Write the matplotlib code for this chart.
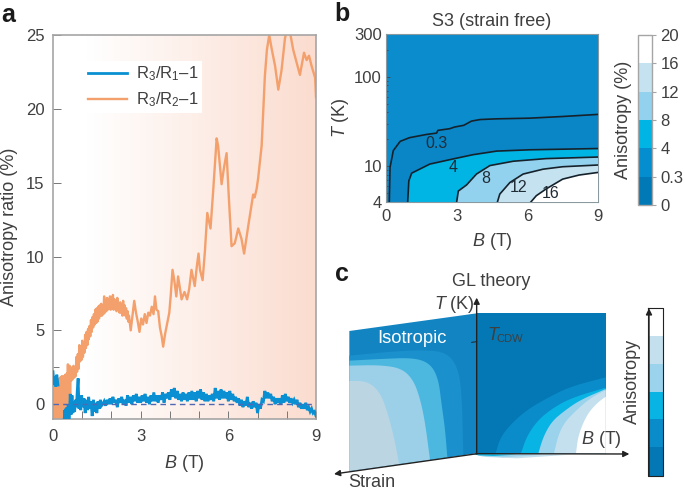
import numpy as np
import matplotlib
matplotlib.use('Agg')
import matplotlib.pyplot as plt
from matplotlib.cm import ScalarMappable
from matplotlib.colors import BoundaryNorm, ListedColormap, LinearSegmentedColormap
from matplotlib.ticker import FixedLocator, NullFormatter

plt.rcParams['font.family'] = ['Liberation Sans', 'DejaVu Sans']
plt.rcParams['mathtext.fontset'] = 'custom'
plt.rcParams['mathtext.rm'] = 'Liberation Sans'
plt.rcParams['mathtext.it'] = 'Liberation Sans:italic'
plt.rcParams['mathtext.default'] = 'regular'

W, H = 685, 492
TEXT = '#3f3f3f'
GREY = '#a5a5a5'
BLUE = '#0a90d2'
ORANGE = '#f3a06c'
FS_TICK = 12
FS_LABEL = 13

# panel a, R3/R2-1
b_r2 = [0.000, 0.015, 0.030, 0.045, 0.060, 0.075, 0.090, 0.105, 0.120, 0.135, 0.150, 0.165, 0.180, 0.195,
        0.210, 0.225, 0.240, 0.255, 0.270, 0.285, 0.300, 0.315, 0.330, 0.345, 0.360, 0.375, 0.390, 0.405,
        0.420, 0.435, 0.450, 0.465, 0.480, 0.495, 0.510, 0.525, 0.540, 0.555, 0.570, 0.585,
        0.600, 0.625, 0.650, 0.675, 0.700, 0.725, 0.750, 0.775, 0.800, 0.825, 0.850, 0.875, 0.900, 0.925,
        0.950, 0.975, 1.000, 1.025, 1.050, 1.075, 1.100, 1.125, 1.150, 1.175, 1.200, 1.225, 1.250, 1.275,
        1.300, 1.325, 1.350, 1.375, 1.400, 1.425, 1.450, 1.475, 1.500, 1.525, 1.550, 1.575, 1.600, 1.625,
        1.650, 1.675, 1.700, 1.725, 1.750, 1.775, 1.800, 1.825, 1.850, 1.875, 1.900, 1.925, 1.950, 1.975,
        2.000, 2.025, 2.050, 2.075, 2.100, 2.125, 2.150, 2.175, 2.200, 2.225, 2.250, 2.275, 2.300, 2.325,
        2.350, 2.375, 2.400, 2.425, 2.450, 2.475, 2.500, 2.525, 2.550, 2.575,
        2.60, 2.66, 2.72, 2.78, 2.84, 2.90, 2.96, 3.02, 3.08, 3.14, 3.20, 3.26, 3.32, 3.38, 3.44,
        3.49, 3.54, 3.60, 3.66, 3.72, 3.77, 3.84, 3.92, 3.98, 4.03, 4.09, 4.15, 4.22, 4.28, 4.34,
        4.40, 4.50, 4.59, 4.66, 4.74, 4.85, 4.92, 4.98, 5.03, 5.12, 5.20, 5.28, 5.39, 5.48, 5.60,
        5.65, 5.77, 5.85, 5.94, 6.02, 6.11, 6.22, 6.34, 6.45, 6.54, 6.68, 6.85, 6.90, 6.97, 7.02,
        7.14, 7.25, 7.32, 7.40, 7.48, 7.60, 7.71, 7.82, 7.94, 8.00, 8.10, 8.22, 8.33, 8.45, 8.59,
        8.68, 8.76, 8.85, 8.97, 9.00]
r2 = [1.3, -1.2, 1.1, -1.2, 1.4, -1.2, 1.2, -1.2, 1.5, -1.2, 1.3, -1.2, 1.7, -1.2,
      1.4, -1.2, 1.8, -1.2, 1.5, -1.2, 1.9, -1.2, 1.6, -1.2, 1.9, -1.2, 1.7, -1.2,
      2.0, -1.2, 1.8, -1.2, 2.1, -1.2, 2.7, -1.0, 2.4, -0.6, 2.6, 0.4,
      2.2, 1.6, 2.5, 1.7, 2.6, 1.8, 2.4, 1.9, 3.2, 2.2, 3.4, 2.4, 4.0, 2.9,
      3.9, 3.0, 4.3, 3.2, 4.2, 3.5, 4.7, 3.8, 4.9, 4.0, 5.1, 4.4, 5.3, 4.6,
      5.7, 4.9, 5.9, 5.2, 6.1, 5.4, 6.4, 5.5, 6.5, 5.6, 6.6, 5.8, 6.7, 6.0,
      6.8, 6.0, 6.7, 6.1, 7.3, 6.2, 7.0, 6.3, 7.2, 6.4, 7.1, 6.5, 7.3, 6.4,
      7.2, 6.5, 7.4, 6.4, 7.1, 6.6, 7.0, 6.3, 7.2, 6.4, 6.8, 6.2, 6.9, 6.2,
      6.6, 6.0, 7.0, 6.1, 6.7, 6.0, 6.5, 5.8, 6.3, 5.6,
      6.0, 5.0, 6.0, 7.0, 6.2, 5.6, 4.9, 5.8, 5.4, 6.1, 5.5, 6.2, 6.0, 6.6, 6.1,
      7.3, 6.4, 6.3, 5.2, 4.6, 3.9, 4.8, 5.6, 6.2, 7.4, 9.1, 8.4, 7.3, 8.65, 7.9,
      7.1, 7.6, 7.1, 7.8, 9.1, 8.0, 9.3, 10.2, 9.1, 8.4, 10.4, 12.95, 11.9, 14.4, 18.0,
      17.5, 14.9, 16.0, 17.0, 13.9, 10.7, 10.9, 11.9, 11.2, 10.2, 12.05, 14.2, 14.0, 14.6, 15.3,
      17.5, 22.2, 24.0, 25.0, 24.1, 22.9, 21.3, 22.6, 24.8, 25.3, 25.3, 24.0, 23.2, 22.3, 23.8,
      23.3, 23.6, 22.9, 22.1, 20.8]

# panel a, R3/R1-1
b_r1 = [0.00, 0.03, 0.06, 0.09, 0.13, 0.17, 0.20, 0.38, 0.40, 0.42, 0.44, 0.46, 0.48, 0.50, 0.52, 0.54, 0.56, 0.59,
        0.62, 0.65, 0.68, 0.71, 0.74, 0.77, 0.80, 0.83, 0.86, 0.89, 0.92, 0.95, 0.98, 1.02, 1.06,
        1.10, 1.14, 1.18, 1.22, 1.26, 1.30, 1.34, 1.38, 1.42, 1.46, 1.50, 1.54, 1.58, 1.62, 1.66,
        1.70, 1.75, 1.80, 1.85, 1.90, 1.95, 2.00, 2.05, 2.10, 2.15, 2.20, 2.25, 2.30, 2.35, 2.40,
        2.45, 2.50, 2.55, 2.60, 2.65, 2.70, 2.75, 2.80, 2.85, 2.90, 2.95, 3.00, 3.05, 3.10, 3.15,
        3.20, 3.25, 3.30, 3.35, 3.40, 3.45, 3.50, 3.55, 3.60, 3.65, 3.70, 3.75, 3.80, 3.85, 3.90,
        3.95, 4.00, 4.05, 4.10, 4.15, 4.20, 4.25, 4.30, 4.35, 4.40, 4.45, 4.50, 4.55, 4.60, 4.65,
        4.70, 4.75, 4.80, 4.85, 4.90, 4.95, 5.00, 5.05, 5.10, 5.15, 5.20, 5.25, 5.30, 5.35, 5.40,
        5.45, 5.50, 5.55, 5.60, 5.65, 5.70, 5.75, 5.80, 5.85, 5.90, 5.95, 6.00, 6.05, 6.10, 6.15,
        6.20, 6.25, 6.30, 6.35, 6.40, 6.45, 6.50, 6.55, 6.60, 6.65, 6.70, 6.75, 6.80, 6.85, 6.90,
        6.95, 7.00, 7.05, 7.10, 7.15, 7.20, 7.25, 7.30, 7.35, 7.40, 7.45, 7.50, 7.55, 7.60, 7.65,
        7.70, 7.75, 7.80, 7.85, 7.90, 7.95, 8.00, 8.05, 8.10, 8.15, 8.20, 8.25, 8.30, 8.35, 8.40,
        8.45, 8.50, 8.55, 8.60, 8.65, 8.70, 8.75, 8.80, 8.85, 8.90, 8.95, 9.00]
r1 = [2.2, 1.3, 1.9, 1.2, 2.0, 1.3, np.nan, -1.2, -0.4, -1.2, -0.3, -1.2, -0.2, -1.2, 0.0, -1.1, -0.9, 0.7,
      -0.7, 0.6, -0.6, 0.2, -0.5, 0.3, -0.2, 0.9, 1.75, -0.3, 0.5, -0.4, 0.6, -0.2, 0.4,
      -0.6, 0.3, -0.4, 0.5, -0.3, 0.2, -0.8, 0.3, -0.5, 0.1, -0.6, 0.2, -0.3, 0.3, -0.1,
      0.0, 0.2, -0.1, 0.3, 0.0, 0.4, 0.0, 0.5, 0.1, 0.3, -0.2, 0.4, 0.1, 0.5, 0.0,
      0.3, -0.1, 0.6, 0.1, 0.5, 0.0, 0.6, 0.2, 0.7, 0.1, 0.5, 0.1, 0.6, 0.2, 0.7,
      0.1, 0.5, 0.0, 0.6, 0.2, 0.8, 0.2, 0.6, 0.1, 0.6, 0.3, 0.8, 0.1, 0.7, 0.4,
      0.8, 0.3, 1.0, 0.5, 1.1, 0.4, 0.9, 0.3, 0.7, 0.2, 0.8, 0.3, 0.7, 0.2, 0.8,
      0.3, 0.9, 0.3, 0.8, 0.2, 0.9, 0.4, 1.0, 0.3, 0.8, 0.2, 0.7, 0.2, 0.6, 0.3,
      0.7, 0.2, 1.1, 0.4, 0.9, 0.3, 1.0, 0.4, 0.9, 0.4, 0.8, 0.2, 0.9, 0.3, 0.7,
      0.2, 0.5, 0.1, 0.4, -0.1, 0.3, -0.2, 0.2, -0.1, 0.5, -0.2, 0.1, -0.3, 0.2, -0.2,
      0.1, -0.6, 0.0, -0.3, 0.3, 0.2, 0.9, 0.4, 0.8, 0.4, 0.7, 0.2, 0.5, 0.0, 0.4,
      0.1, 0.4, 0.0, 0.6, 0.1, 0.7, 0.2, 0.5, 0.1, 0.4, 0.1, 0.3, 0.0, 0.3, -0.2,
      0.1, -0.3, 0.0, -0.3, 0.1, -0.4, -0.2, -0.5, -0.3, -0.6, -0.5, -0.8]

# panel b, contour lines (B in T, T in K)
c03_b = [0.14, 0.17, 0.31, 0.60, 1.00, 1.72, 2.15, 2.20, 2.70, 2.92, 3.30, 3.63, 4.00, 4.70, 6.10, 7.50, 9.00]
c03_t = [4.0, 9.7, 15.0, 19.0, 20.9, 22.7, 23.5, 25.2, 26.3, 27.5, 28.7, 32.0, 33.3, 33.9, 34.5, 36.0, 38.0]
c4_b = [0.92, 0.97, 1.09, 1.86, 2.85, 3.70, 4.70, 6.10, 9.00]
c4_t = [4.0, 6.9, 8.4, 10.6, 12.1, 13.5, 14.8, 15.3, 15.8]
c8_b = [3.00, 3.07, 3.42, 3.84, 4.41, 5.40, 6.80, 9.00]
c8_t = [4.0, 5.3, 6.2, 8.2, 10.2, 11.4, 12.2, 12.7]
c12_b = [4.73, 4.83, 5.26, 5.82, 6.67, 7.50, 9.00]
c12_t = [4.0, 4.9, 6.6, 8.2, 9.3, 9.9, 10.35]
c16_b = [6.15, 6.38, 6.80, 7.50, 8.20, 9.00]
c16_t = [4.0, 4.7, 5.6, 7.2, 8.0, 8.55]
contour_b = [c03_b, c4_b, c8_b, c12_b, c16_b]
contour_t = [c03_t, c4_t, c8_t, c12_t, c16_t]
contour_names = ['0.3', '4', '8', '12', '16']
label_b = [2.15, 2.85, 4.22, 5.64, 7.0]
label_t = [18.2, 9.7, 7.3, 5.8, 5.0]

cbar_bounds = [0, 0.3, 4, 8, 12, 16, 20]
cbar_names = ['0', '0.3', '4', '8', '12', '16', '20']
cbar_colors = ['#0079b6', '#048ecf', '#00b4e4', '#93d2ee', '#c5e2f0', '#ffffff']
top_color = '#0a8ccd'
fill_colors = ['#0a86c6', '#00b4e4', '#93d2ee', '#c5e2f0', '#ffffff']

# panel c, schematic outlines in zoomed picture units
left_base = ([58, 440, 440, 58], [228, 175, 595, 648])
left_color = '#1284c2'
left_bands = [
    ('#1a90cc', [58, 200, 300, 350, 380, 395, 400], [302, 288, 285, 295, 330, 400, 600]),
    ('#4cb8e0', [58, 150, 250, 300, 325, 335, 345, 352], [317, 312, 308, 325, 370, 450, 520, 607]),
    ('#9cd0e8', [58, 150, 215, 250, 270, 285, 300], [332, 330, 340, 375, 430, 500, 615]),
    ('#bcd5e3', [58, 110, 150, 175, 195, 207], [378, 378, 410, 480, 560, 627]),
]
right_base = ([440, 827, 827, 440], [175, 175, 595, 595])
right_color = '#0378b4'
right_bands = [
    ('#0a8ccb', [497, 510, 540, 590, 650, 720, 827], [595, 550, 510, 465, 430, 395, 367]),
    ('#08b4e4', [573, 590, 620, 660, 720, 827], [595, 545, 500, 465, 430, 398]),
    ('#9bd2ec', [625, 640, 665, 700, 750, 827], [595, 545, 500, 470, 435, 402]),
    ('#c4e0ee', [672, 685, 705, 740, 780, 827], [595, 540, 500, 465, 430, 405]),
    ('#ffffff', [738, 745, 770, 800, 827], [595, 540, 480, 445, 425]),
]
sliver = [
    ('#c4e0ee', [430, 720, 560, 470], [597, 599, 610, 606]),
    ('#9bd2ec', [430, 640, 520, 455], [597, 599, 607, 604]),
    ('#08b4e4', [430, 560, 490, 445], [597, 599, 603, 601]),
]
bar_edges = [158, 243, 327, 410, 493, 577, 662]
bar_colors = ['#ffffff', '#c4e0ee', '#9bd2ec', '#08b4e4', '#0a8ccb', '#0378b4']


def px_axes(fig, x0, y0, x1, y1):
    return fig.add_axes([x0 / W, 1 - y1 / H, (x1 - x0) / W, (y1 - y0) / H])


def chaikin(xs, ys, rounds=3):
    # corner cutting, keeps both end points
    p = np.column_stack([xs, ys]).astype(float)
    for _ in range(rounds):
        q = 0.75 * p[:-1] + 0.25 * p[1:]
        r = 0.25 * p[:-1] + 0.75 * p[1:]
        mid = np.empty((2 * len(q), 2))
        mid[0::2] = q
        mid[1::2] = r
        p = np.vstack([p[0], mid, p[-1]])
    return p[:, 0], p[:, 1]


def panel_a(fig):
    ax = px_axes(fig, 53, 35, 316, 419)
    ax.set_xlim(0, 9)
    ax.set_ylim(-1, 25)

    fade = LinearSegmentedColormap.from_list('fade', [(0, '#ffffff'), (0.13, '#ffffff'), (1, '#fbdccf')])
    ax.imshow(np.linspace(0, 1, 256).reshape(1, -1), extent=(0, 9, -1, 25), aspect='auto', cmap=fade, zorder=0)

    ax.plot(b_r1, r1, color=BLUE, lw=2.0, label='R$_3$/R$_1$\u20131', zorder=3, solid_joinstyle='miter')
    ax.plot(b_r2, r2, color=ORANGE, lw=1.7, label='R$_3$/R$_2$\u20131', zorder=2)
    ax.axhline(0, color='#5068b4', lw=1, ls=(0, (4, 3)), zorder=4)

    ax.set_xticks([0, 3, 6, 9])
    ax.set_yticks([0, 5, 10, 15, 20, 25])
    ax.xaxis.set_minor_locator(FixedLocator([1, 2, 4, 5, 7, 8]))
    ax.yaxis.set_minor_locator(FixedLocator([2.5]))
    ax.tick_params(which='both', direction='in', color='#777777', labelcolor=TEXT, width=0.7)
    ax.tick_params(which='major', length=5.5, labelsize=FS_TICK)
    ax.tick_params(which='minor', length=5.5)
    ax.tick_params(axis='y', which='minor', length=4)
    ax.tick_params(axis='x', pad=7)
    ax.tick_params(axis='y', pad=6)
    for s in ax.spines.values():
        s.set_color(GREY)
        s.set_linewidth(1.2)
    ax.set_xlabel('$\\mathit{B}$ (T)', color=TEXT, fontsize=FS_LABEL, labelpad=7)
    ax.set_ylabel('Anisotropy ratio (%)', color=TEXT, fontsize=FS_LABEL, labelpad=6)

    leg = ax.legend(loc='upper left', bbox_to_anchor=(0.122, 0.932), frameon=True, framealpha=1,
                    edgecolor='none', fontsize=12, handlelength=2.3, labelspacing=0.45,
                    borderpad=0.2, handletextpad=0.55, borderaxespad=0, fancybox=False)
    for t in leg.get_texts():
        t.set_color(TEXT)


def panel_b(fig):
    ax = px_axes(fig, 386, 34, 598, 202)
    ax.set_yscale('log')
    ax.set_xlim(0, 9)
    ax.set_ylim(4, 300)
    ax.set_facecolor(top_color)
    for i, (bs, ts) in enumerate(zip(contour_b, contour_t)):
        ax.fill(bs + [9], ts + [4], color=fill_colors[i], lw=0, zorder=1 + i)
        ax.plot(bs, ts, color='#15222c', lw=1.2, zorder=8)

    for txt, bx, ty in zip(contour_names, label_b, label_t):
        ax.text(bx, ty, txt, color='#1f2c36', fontsize=11.5, ha='center', va='center', zorder=9)

    ax.set_xticks([0, 3, 6, 9])
    ax.set_yticks([4, 10, 100, 300])
    ax.set_yticklabels(['4', '10', '100', '300'])
    ax.yaxis.set_minor_locator(FixedLocator([5, 6, 7, 8, 9, 20, 30, 40, 50, 60, 70, 80, 90, 200]))
    ax.yaxis.set_minor_formatter(NullFormatter())
    ax.xaxis.set_minor_locator(FixedLocator([1, 2, 4, 5, 7, 8]))
    ax.tick_params(which='both', direction='in', color='#3a4a55', labelcolor=TEXT, width=0.6)
    ax.tick_params(which='major', length=3, labelsize=FS_TICK, pad=3)
    ax.tick_params(which='minor', length=1.5)
    ax.tick_params(axis='x', pad=5)
    for s in ax.spines.values():
        s.set_color('#8a98a0')
        s.set_linewidth(0.8)
    ax.set_xlabel('$\\mathit{B}$ (T)', color=TEXT, fontsize=FS_LABEL, labelpad=5)
    ax.set_ylabel('$\\mathit{T}$ (K)', color=TEXT, fontsize=FS_LABEL, labelpad=2)
    ax.set_title('S3 (strain free)', color=TEXT, fontsize=FS_LABEL, pad=6)

    cax = px_axes(fig, 638, 35, 652, 205)
    sm = ScalarMappable(norm=BoundaryNorm(cbar_bounds, len(cbar_colors)), cmap=ListedColormap(cbar_colors))
    cb = fig.colorbar(sm, cax=cax, spacing='uniform', ticks=cbar_bounds)
    cb.ax.set_yticklabels(cbar_names)
    cb.ax.tick_params(length=3, width=0.8, color=GREY, labelcolor=TEXT, labelsize=FS_TICK, pad=3)
    cb.outline.set_edgecolor(GREY)
    cb.outline.set_linewidth(1)
    fig.text(623 / W, 1 - 120 / H, 'Anisotropy (%)', rotation=90, color=TEXT, fontsize=FS_LABEL,
             ha='center', va='center')


def panel_c(fig):
    # zoomed units: 3 per picture pixel, origin at (330, 255)
    ax = px_axes(fig, 330, 255, 685, 492)
    ax.set_xlim(0, 1065)
    ax.set_ylim(711, 0)
    ax.axis('off')

    ax.fill(*left_base, color=left_color, lw=0)
    for col, xs, ys in left_bands:
        sx, sy = chaikin(xs, ys)
        ax.fill(list(sx) + [58], list(sy) + [648], color=col, lw=0)
    ax.fill(*right_base, color=right_color, lw=0)
    for col, xs, ys in right_bands:
        sx, sy = chaikin(xs, ys)
        ax.fill(list(sx) + [827], list(sy) + [595], color=col, lw=0)
    for col, xs, ys in sliver:
        ax.fill(xs, ys, color=col, lw=0)

    arrow = dict(arrowstyle='-|>', color='#222222', lw=1, mutation_scale=9, shrinkA=0, shrinkB=0)
    ax.annotate('', xy=(440, 128), xytext=(440, 596), arrowprops=arrow)
    ax.annotate('', xy=(898, 597), xytext=(438, 596), arrowprops=arrow)
    ax.annotate('', xy=(12, 657), xytext=(442, 596), arrowprops=arrow)
    ax.plot([425, 440], [262, 260], color='#222222', lw=0.7)

    for top, bot, col in zip(bar_edges[:-1], bar_edges[1:], bar_colors):
        ax.fill([955, 998, 998, 955], [top, top, bot, bot], color=col, lw=0)
    ax.plot([955, 998, 998, 955, 955], [158, 158, 662, 662, 158], color='#222222', lw=0.8)
    ax.annotate('', xy=(957, 160), xytext=(957, 662), arrowprops=arrow)

    ax.text(483, 80, 'GL theory', color=TEXT, fontsize=FS_LABEL, ha='center', va='center')
    ax.text(372, 148, '$\\mathit{T}$ (K)', color=TEXT, fontsize=FS_LABEL, ha='center', va='center')
    ax.text(246, 250, 'Isotropic', color='white', fontsize=13.2, ha='center', va='center')
    ax.text(472, 240, 'T', color=TEXT, fontsize=FS_LABEL, style='italic', ha='left', va='center')
    ax.text(500, 253, 'CDW', color=TEXT, fontsize=8, ha='left', va='center')
    ax.text(813, 553, '$\\mathit{B}$ (T)', color=TEXT, fontsize=FS_LABEL, ha='center', va='center')
    ax.text(125, 682, 'Strain', color=TEXT, fontsize=FS_LABEL, ha='center', va='center')
    ax.text(908, 378, 'Anisotropy', color=TEXT, fontsize=FS_LABEL, rotation=90, ha='center', va='center')


def main():
    fig = plt.figure(figsize=(W / 100, H / 100), dpi=100)
    panel_a(fig)
    panel_b(fig)
    panel_c(fig)
    for s, x, y in [('a', 8, 15), ('b', 342, 14), ('c', 342, 274)]:
        fig.text(x / W, 1 - y / H, s, fontsize=18, fontweight='bold', color='#1a1a1a',
                 ha='center', va='center')
    fig.savefig('out.png', dpi=100)


if __name__ == '__main__':
    main()
